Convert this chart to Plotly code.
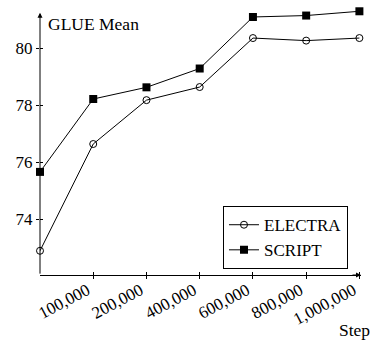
import plotly.graph_objects as go

steps = ["50,000", "100,000", "200,000", "400,000", "600,000", "800,000", "1,000,000"]
tick_labels = ["", "100,000", "200,000", "400,000", "600,000", "800,000", "1,000,000"]
electra = [72.89, 76.64, 78.18, 78.64, 80.36, 80.27, 80.36]
script_vals = [75.66, 78.22, 78.63, 79.29, 81.10, 81.15, 81.30]
y_ticks = [74, 76, 78, 80]

xpos = list(range(len(steps)))
FONT = "Liberation Serif"
XR = [0, 6.03]
YR = [72.04, 81.345]

fig = go.Figure()
fig.add_trace(go.Scatter(
    x=xpos, y=electra, name="ELECTRA", mode="lines+markers",
    line=dict(color="black", width=1),
    marker=dict(symbol="circle-open", size=7, color="black", line=dict(width=1)),
    cliponaxis=False,
))
fig.add_trace(go.Scatter(
    x=xpos, y=script_vals, name="SCRIPT", mode="lines+markers",
    line=dict(color="black", width=1),
    marker=dict(symbol="square", size=8, color="black"),
    cliponaxis=False,
))
# empty trace to activate overlay axes (inner half of crossing ticks)
fig.add_trace(go.Scatter(x=[None], y=[None], xaxis="x2", yaxis="y2",
                         showlegend=False, hoverinfo="skip"))

fig.update_layout(
    width=376, height=343,
    margin=dict(l=40, r=15, t=10, b=68),
    paper_bgcolor="white", plot_bgcolor="white",
    font=dict(family=FONT, size=17, color="black"),
    showlegend=True,
    legend=dict(
        x=0.9595, y=0.022, xanchor="right", yanchor="bottom",
        bordercolor="black", borderwidth=1, bgcolor="white",
        font=dict(family=FONT, size=17),
        tracegroupgap=0, itemwidth=30,
    ),
    xaxis=dict(
        range=XR, tickvals=xpos[1:], ticktext=tick_labels[1:],
        tickangle=-28, showgrid=False, zeroline=False,
        showline=True, linecolor="black", linewidth=1,
        ticks="outside", ticklen=3, tickcolor="black",
        tickfont=dict(family=FONT, size=17),
        ticklabelshift=-6, ticklabelstandoff=-5,
    ),
    yaxis=dict(
        range=YR, tickvals=y_ticks,
        showgrid=False, zeroline=False,
        showline=False,
        ticks="outside", ticklen=3, tickcolor="black",
        tickfont=dict(family=FONT, size=17),
    ),
    xaxis2=dict(
        overlaying="x", range=XR, tickvals=xpos[1:], showticklabels=False,
        showgrid=False, zeroline=False, showline=False,
        ticks="inside", ticklen=3, tickcolor="black", side="bottom",
    ),
    yaxis2=dict(
        overlaying="y", range=YR, tickvals=y_ticks, showticklabels=False,
        showgrid=False, zeroline=False, showline=False,
        ticks="inside", ticklen=3, tickcolor="black", side="left",
    ),
    annotations=[
        dict(text="GLUE Mean", xref="paper", yref="paper", x=0.0178, y=0.947,
             xanchor="left", yanchor="middle", showarrow=False,
             font=dict(family=FONT, size=17.5)),
        dict(text="Step", xref="paper", yref="paper", x=1.034, y=-0.209,
             xanchor="right", yanchor="middle", showarrow=False,
             font=dict(family=FONT, size=17.5)),
        # y axis line with arrowhead
        dict(xref="paper", yref="paper", x=0, y=0.99, ax=0, ay=262.5,
             text="", showarrow=True, arrowhead=2, arrowsize=1, arrowwidth=1,
             arrowcolor="black"),
        # arrowhead at right end of x axis
        dict(xref="paper", yref="paper", x=1.0, y=0, ax=-10, ay=0,
             text="", showarrow=True, arrowhead=2, arrowsize=1, arrowwidth=1,
             arrowcolor="black"),
    ],
)

fig.write_html(
    "out.html",
    config={"displayModeBar": False},
    post_script="document.body.style.margin='0';document.body.style.overflow='hidden';",
)
